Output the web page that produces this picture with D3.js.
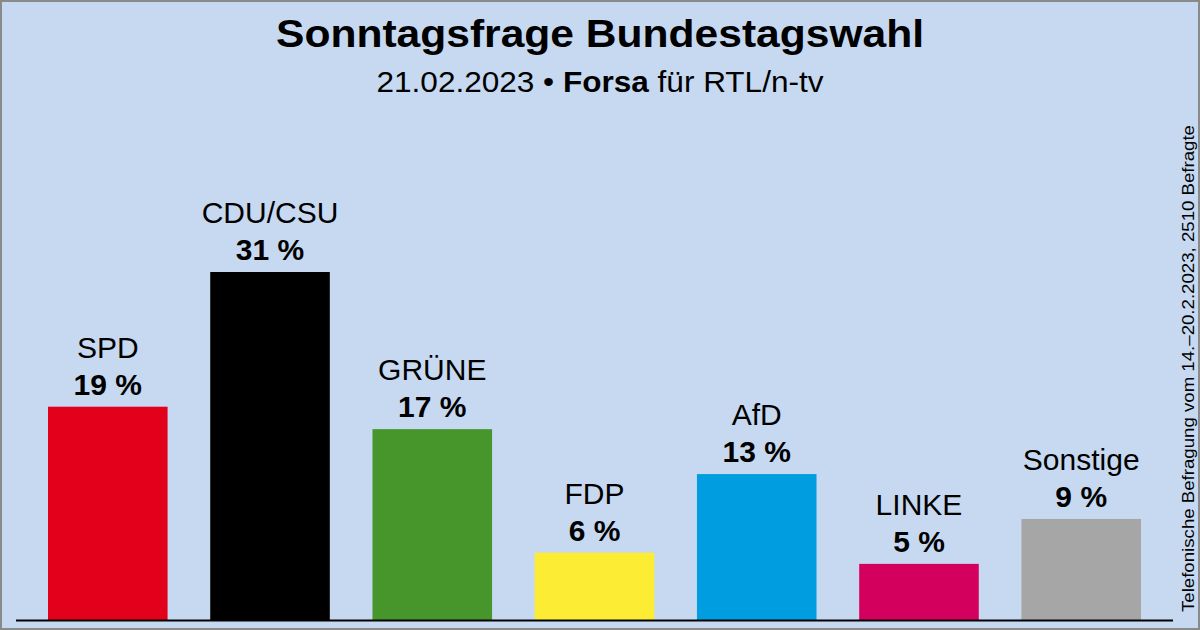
<!DOCTYPE html>
<html><head><meta charset="utf-8">
<script src="https://cdn.jsdelivr.net/npm/d3@7"></script>
<style>html,body{margin:0;padding:0;background:#C6D9F0;}svg{display:block;font-family:"Liberation Sans",Arial,sans-serif;}</style>
</head><body>
<script>
const parties = ["SPD","CDU/CSU","GRÜNE","FDP","AfD","LINKE","Sonstige"];
const values = [19,31,17,6,13,5,9];
const colors = ["#E3001B","#000000","#46962B","#FCEC33","#009EE0","#D3005E","#A6A6A6"];
const title = "Sonntagsfrage Bundestagswahl";
const subtitleDate = "21.02.2023 • ";
const subtitleInst = "Forsa";
const subtitleRest = " für RTL/n-tv";
const note = "Telefonische Befragung vom 14.–20.2.2023, 2510 Befragte";

const W=1200,H=630;
const svg=d3.select("body").append("svg").attr("width",W).attr("height",H);
svg.append("rect").attr("x",1).attr("y",1).attr("width",W-2).attr("height",H-2)
  .attr("fill","#C6D9F0").attr("stroke","#8A8A8A").attr("stroke-width",2);

const x=d3.scaleBand().domain(parties).range([48,1141]).paddingInner(0.263).paddingOuter(0);
const y=d3.scaleLinear().domain([0,31]).range([620,272]);

svg.append("text").attr("x",600).attr("y",47).attr("text-anchor","middle")
  .attr("font-size",39).attr("font-weight","bold").attr("fill","#000")
  .attr("textLength",648).attr("lengthAdjust","spacingAndGlyphs").text(title);
const st=svg.append("text").attr("x",600).attr("y",92).attr("text-anchor","middle")
  .attr("font-size",29).attr("fill","#000")
  .attr("textLength",447).attr("lengthAdjust","spacingAndGlyphs");
st.append("tspan").text(subtitleDate);
st.append("tspan").attr("font-weight","bold").text(subtitleInst);
st.append("tspan").text(subtitleRest);

const g=svg.append("g");
g.selectAll("rect.bar").data(parties).join("rect").attr("class","bar")
  .attr("x",d=>x(d)).attr("width",x.bandwidth())
  .attr("y",(d,i)=>y(values[i])).attr("height",(d,i)=>y(0)-y(values[i]))
  .attr("fill",(d,i)=>colors[i]);

g.selectAll("text.name").data(parties).join("text").attr("class","name")
  .attr("x",d=>x(d)+x.bandwidth()/2).attr("y",(d,i)=>y(values[i])-49)
  .attr("text-anchor","middle").attr("font-size",30).attr("fill","#000").text(d=>d);
g.selectAll("text.val").data(parties).join("text").attr("class","val")
  .attr("x",d=>x(d)+x.bandwidth()/2).attr("y",(d,i)=>y(values[i])-12)
  .attr("text-anchor","middle").attr("font-size",30).attr("font-weight","bold").attr("fill","#000")
  .text((d,i)=>values[i]+" %");

svg.append("line").attr("x1",16).attr("x2",1173).attr("y1",620.5).attr("y2",620.5)
  .attr("stroke","#000").attr("stroke-width",2);

svg.append("text").attr("transform","translate(1194,612) rotate(-90)")
  .attr("text-anchor","start").attr("font-size",17).attr("fill","#000")
  .attr("textLength",487).attr("lengthAdjust","spacingAndGlyphs").text(note);
</script>
</body></html>
